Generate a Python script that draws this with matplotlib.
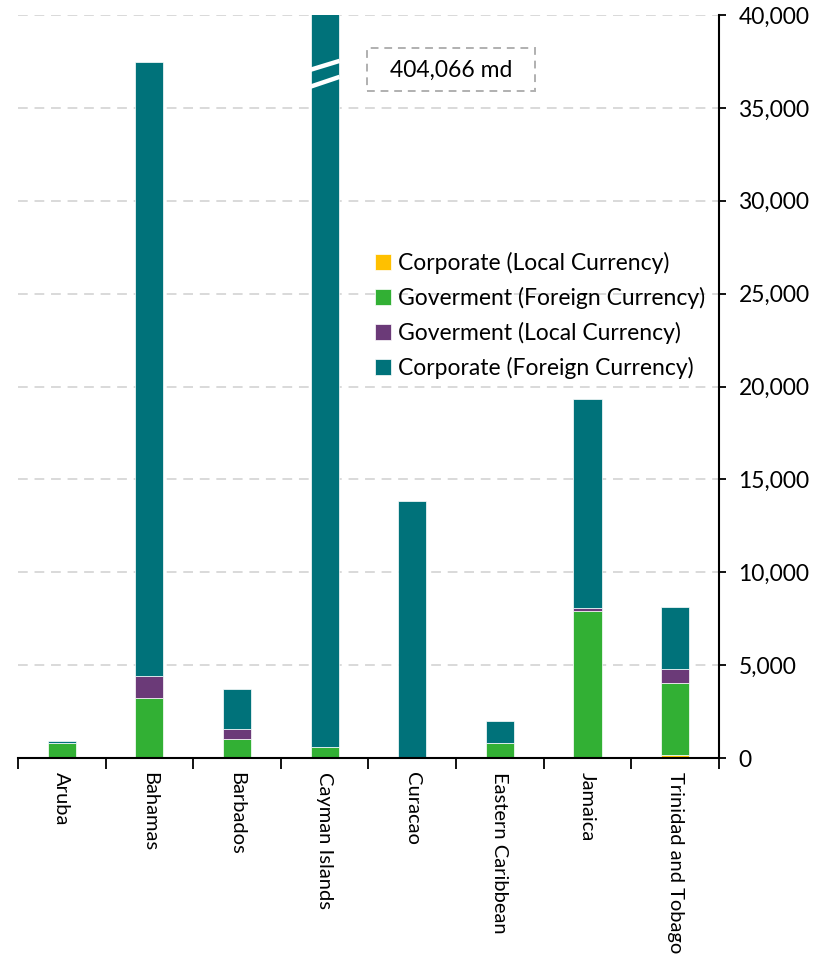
import matplotlib.pyplot as plt
import numpy as np
from matplotlib.patches import Rectangle

plt.rcParams['font.family'] = ['Lato', 'DejaVu Sans']

# Debt outstanding by issuer type and currency
countries = ["Aruba", "Bahamas", "Barbados", "Cayman Islands", "Curacao",
             "Eastern Caribbean", "Jamaica", "Trinidad and Tobago"]
corp_local = [0, 0, 0, 0, 0, 0, 0, 150]
gov_foreign = [790, 3240, 1010, 575, 0, 790, 7900, 3880]
gov_local = [0, 1150, 575, 0, 0, 0, 150, 770]
cayman_total = 404066
corp_foreign = [120, 33080, 2110, cayman_total - 575, 13840, 1220, 11300, 3330]

series = [
    ("Corporate (Local Currency)", corp_local, "#FFC000"),
    ("Goverment (Foreign Currency)", gov_foreign, "#32B034"),
    ("Goverment (Local Currency)", gov_local, "#6B3A78"),
    ("Corporate (Foreign Currency)", corp_foreign, "#00727A"),
]

fig = plt.figure(figsize=(8.13, 9.56), dpi=100)
ax = fig.add_axes([0.0221, 0.2071, 0.8622, 0.7772])

x = np.arange(len(countries))
bottom = np.zeros(len(countries))
for label, vals, color in series:
    vals = np.array(vals, dtype=float)
    ax.bar(x, vals, width=0.32, bottom=bottom, color=color, label=label,
           edgecolor="white", linewidth=0.5, zorder=3)
    bottom += vals

ax.set_xlim(-0.5, len(countries) - 0.5)
ax.set_ylim(0, 40000)

# axis break on the Cayman Islands bar
ci = countries.index("Cayman Islands")
for y0, y1 in [(37040, 37530), (36130, 36670)]:
    ax.plot([ci - 0.17, ci + 0.17], [y0, y1], color="white", lw=3.2,
            solid_capstyle="butt", zorder=4)

# gridlines
ax.yaxis.grid(True, color="#D9D9D9", linestyle=(0, (5, 3.5)), linewidth=1.4, zorder=0)
ax.set_axisbelow(True)

# right-side value axis
ax.yaxis.tick_right()
ax.set_yticks(np.arange(0, 40001, 5000))
ax.set_yticklabels([f"{v:,}" for v in range(0, 40001, 5000)], fontsize=16.5)
ax.tick_params(axis="y", direction="out", length=5, width=1.3, pad=9,
               left=False, right=True)

for side in ["left", "top"]:
    ax.spines[side].set_visible(False)
ax.spines["right"].set_linewidth(1.5)
ax.spines["bottom"].set_linewidth(1.5)
ax.spines["bottom"].set_zorder(5)

# category axis: ticks at boundaries, labels under bars
ax.set_xticks(x)
ax.set_xticklabels(countries, rotation=-90, fontsize=14.5, va="top", ha="center")
ax.tick_params(axis="x", length=0, pad=10)
ax.set_xticks(np.arange(-0.5, len(countries), 1), minor=True)
ax.tick_params(axis="x", which="minor", length=8, width=1.3, direction="out")

# total for the clipped bar
ax.add_patch(Rectangle((0.498, 0.8977), 0.240, 0.058, transform=ax.transAxes,
                       fill=False, edgecolor="#B0B0B0", linestyle=(0, (4, 3)),
                       linewidth=1.4, zorder=5, clip_on=False))
ax.text(0.618, 0.926, f"{cayman_total:,} md", transform=ax.transAxes,
        ha="center", va="center", fontsize=16.5, zorder=6)

leg = ax.legend(loc="upper left", bbox_to_anchor=(0.496, 0.693), frameon=False,
                fontsize=16.5, handlelength=0.7, handleheight=0.7,
                handletextpad=0.3, labelspacing=0.56, borderaxespad=0)

plt.savefig("out.png", dpi=100)
